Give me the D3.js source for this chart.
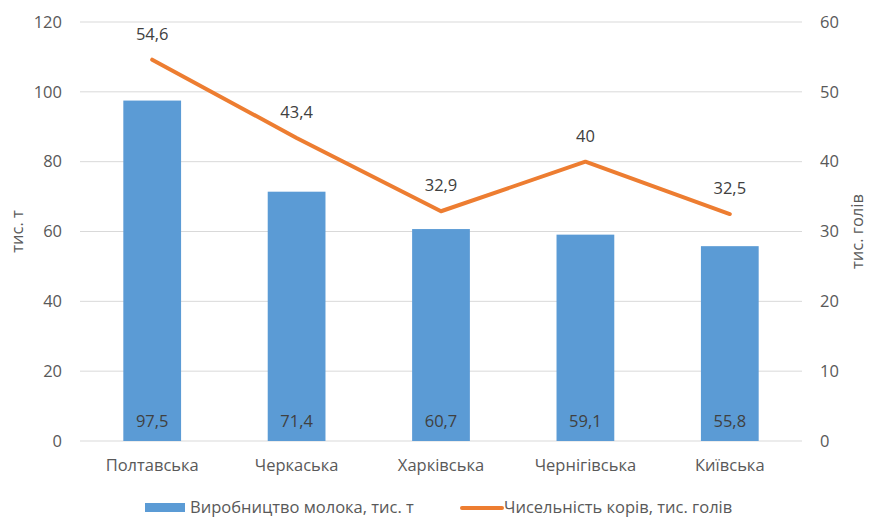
<!DOCTYPE html>
<html><head><meta charset="utf-8">
<script src="https://cdn.jsdelivr.net/npm/d3@7"></script>
<style>body{margin:0;background:#fff;} text{font-family:"Open Sans",sans-serif;}</style>
</head><body>
<svg id="c" width="869" height="517"></svg>
<script>
const categories = ["Полтавська","Черкаська","Харківська","Чернігівська","Київська"];
const milk = [97.5, 71.4, 60.7, 59.1, 55.8];
const cows = [54.6, 43.4, 32.9, 40, 32.5];
const leftTicks = [0,20,40,60,80,100,120];
const rightTicks = [0,10,20,30,40,50,60];
const seriesNames = ["Виробництво молока, тис. т","Чисельність корів, тис. голів"];

const svg = d3.select("#c");
const L = 80, R = 802, T = 22, B = 441;
const FS = "16.5px";
const x = d3.scaleBand().domain(categories).range([L,R]).paddingInner(0.6).paddingOuter(0.3);
const yL = d3.scaleLinear().domain([0,120]).range([B,T]);
const yR = d3.scaleLinear().domain([0,60]).range([B,T]);
const fmt = v => String(v).replace(".", ",");
const grey = "#595959";

// gridlines
svg.append("g").selectAll("line").data(leftTicks).join("line")
  .attr("x1",L).attr("x2",R).attr("y1",d=>yL(d)).attr("y2",d=>yL(d))
  .attr("stroke","#d9d9d9").attr("stroke-width",1);

// left axis
const ga = svg.append("g").attr("transform",`translate(${L},0)`)
  .call(d3.axisLeft(yL).tickValues(leftTicks).tickSize(0).tickPadding(18));
ga.select(".domain").remove();
ga.selectAll("text").attr("fill",grey).style("font-size",FS).style("font-family","Open Sans");
const gb = svg.append("g").attr("transform",`translate(${R},0)`)
  .call(d3.axisRight(yR).tickValues(rightTicks).tickSize(0).tickPadding(18));
gb.select(".domain").remove();
gb.selectAll("text").attr("fill",grey).style("font-size",FS).style("font-family","Open Sans");

// x axis
const gx = svg.append("g").attr("transform",`translate(0,${B})`)
  .call(d3.axisBottom(x).tickSize(0).tickPadding(18));
gx.select(".domain").remove();
gx.selectAll("text").attr("fill",grey).style("font-size",FS).style("font-family","Open Sans");

// bars
svg.append("g").selectAll("rect").data(categories).join("rect")
  .attr("x",d=>x(d)).attr("width",x.bandwidth())
  .attr("y",(d,i)=>yL(milk[i])).attr("height",(d,i)=>B-yL(milk[i]))
  .attr("fill","#5B9BD5");
svg.append("g").selectAll("text").data(categories).join("text")
  .attr("x",d=>x(d)+x.bandwidth()/2).attr("y",B-14)
  .attr("text-anchor","middle").attr("fill","#404040").style("font-size",FS)
  .text((d,i)=>fmt(milk[i]));

// line
const cx = d => x(d)+x.bandwidth()/2;
svg.append("path").datum(categories)
  .attr("d", d3.line().x(d=>cx(d)).y((d,i)=>yR(cows[i])))
  .attr("fill","none").attr("stroke","#ED7D31").attr("stroke-width",4).attr("stroke-linejoin","round").attr("stroke-linecap","round");
svg.append("g").selectAll("text").data(categories).join("text")
  .attr("x",cx).attr("y",(d,i)=>yR(cows[i])-20)
  .attr("text-anchor","middle").attr("fill","#404040").style("font-size",FS)
  .text((d,i)=>fmt(cows[i]));

// axis titles
svg.append("text").attr("transform",`translate(23,${(T+B)/2}) rotate(-90)`)
  .attr("text-anchor","middle").attr("fill",grey).style("font-size",FS).text("тис. т");
svg.append("text").attr("transform",`translate(863,${(T+B)/2}) rotate(-90)`)
  .attr("text-anchor","middle").attr("fill",grey).style("font-size",FS).text("тис. голів");

// legend
const lg = svg.append("g");
lg.append("rect").attr("x",145).attr("y",503).attr("width",40).attr("height",9).attr("fill","#5B9BD5");
lg.append("text").attr("x",190).attr("y",513).attr("fill",grey).style("font-size",FS).text(seriesNames[0]);
lg.append("line").attr("x1",462).attr("x2",502).attr("y1",508).attr("y2",508).attr("stroke","#ED7D31").attr("stroke-width",4).attr("stroke-linecap","round");
lg.append("text").attr("x",504).attr("y",513).attr("fill",grey).style("font-size",FS).text(seriesNames[1]);
</script>
</body></html>
